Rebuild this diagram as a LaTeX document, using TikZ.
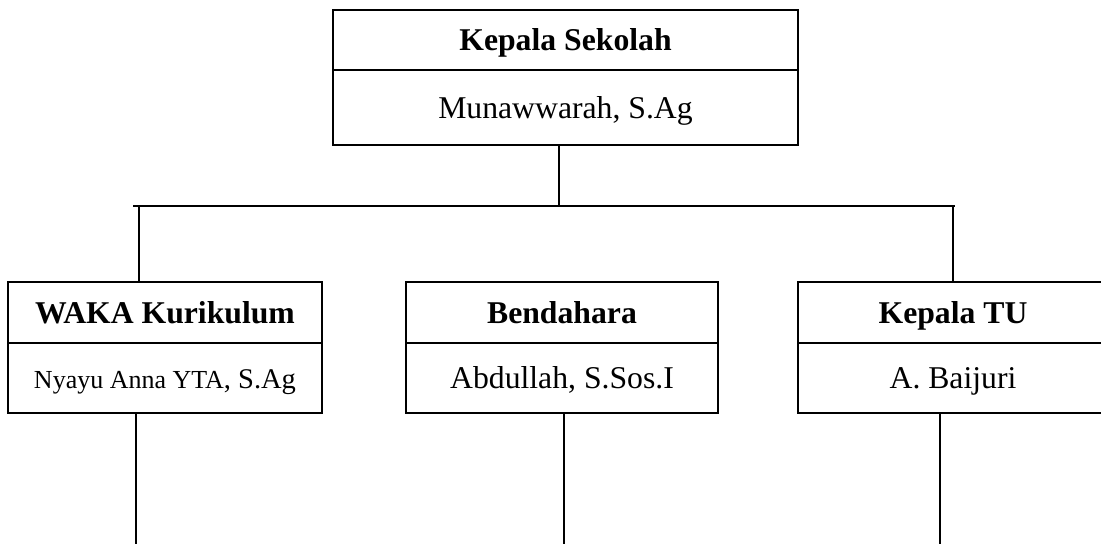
\documentclass[tikz,border=0pt]{standalone}
\usepackage{fontspec}
\setmainfont{Liberation Serif}
\begin{document}
\begin{tikzpicture}[x=1pt,y=-1pt,
  box/.style={draw=black,line width=2.4pt,rectangle,inner sep=0pt,outer sep=0pt,align=center,
    text height=24pt,text depth=3pt,
    font=\fontsize{31.7}{38}\selectfont},
  head/.style={box,font=\fontsize{31.7}{38}\selectfont\bfseries},
  conn/.style={draw=black,line width=1.8pt}]
\useasboundingbox (0,0) rectangle (1101,544);
% top box
\node[head,minimum width=465pt,minimum height=60pt] (ks) at (565.5,40) {Kepala Sekolah};
\node[box,minimum width=465pt,minimum height=75pt] (ksn) at (565.5,107.5) {Munawwarah, S.Ag};
% WAKA
\node[head,minimum width=314pt,minimum height=61pt] (waka) at (165,312.5) {WAKA Kurikulum};
\node[box,minimum width=314pt,minimum height=70pt] (wakan) at (165,378) {{\fontsize{26}{32}\selectfont Nyayu Anna YTA}{\fontsize{28.5}{32}\selectfont, S.Ag}};
% Bendahara
\node[head,minimum width=312pt,minimum height=61pt] (bend) at (562,312.5) {Bendahara};
\node[box,minimum width=312pt,minimum height=70pt] (bendn) at (562,378) {Abdullah, S.Sos.I};
% Kepala TU
\node[head,minimum width=310pt,minimum height=61pt] (tu) at (953,312.5) {Kepala TU};
\node[box,minimum width=310pt,minimum height=70pt] (tun) at (953,378) {A. Baijuri};
% connectors
\coordinate (hub) at (559,206);
\coordinate (hubL) at (133,206);
\coordinate (hubR) at (955,206);
\coordinate (dL) at (139,206);
\coordinate (dR) at (953,206);
\draw[conn] (ksn.south -| hub) -- (hub);
\draw[conn] (hubL) -- (hubR);
\draw[conn] (dL) -- (dL |- waka.north);
\draw[conn] (dR) -- (dR |- tu.north);
\coordinate (e1) at (136,544);
\coordinate (e2) at (564,544);
\coordinate (e3) at (940,544);
\draw[conn] (e1 |- wakan.south) -- (e1);
\draw[conn] (e2 |- bendn.south) -- (e2);
\draw[conn] (e3 |- tun.south) -- (e3);
\end{tikzpicture}
\end{document}
